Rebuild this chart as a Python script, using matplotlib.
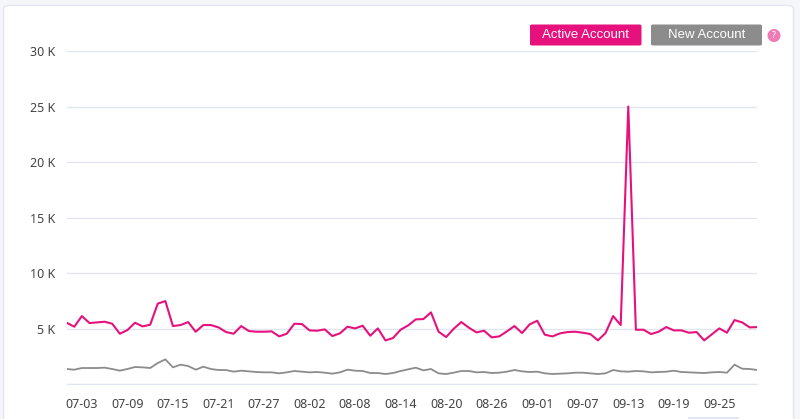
import numpy as np
import pandas as pd
import matplotlib
matplotlib.use('Agg')
import matplotlib.pyplot as plt
from matplotlib.patches import FancyBboxPatch, Ellipse, Rectangle

# daily series, 07-01 .. 09-30
start_date = '2024-07-01'
active = [5520, 5160, 6120, 5490, 5550, 5610, 5430, 4530, 4860, 5520,
          5190, 5340, 7240, 7470, 5220, 5310, 5580, 4710, 5310, 5310,
          5100, 4680, 4530, 5220, 4770, 4710, 4710, 4740, 4290, 4530,
          5430, 5400, 4830, 4800, 4920, 4320, 4560, 5160, 5010, 5250,
          4350, 5010, 3930, 4140, 4890, 5280, 5820, 5850, 6450, 4710,
          4230, 4980, 5580, 5070, 4650, 4800, 4200, 4290, 4740, 5220,
          4590, 5370, 5700, 4440, 4290, 4560, 4680, 4710, 4620, 4500,
          3930, 4590, 6120, 5310, 25000, 4890, 4890, 4500, 4710, 5130,
          4830, 4830, 4620, 4680, 3930, 4470, 5010, 4620, 5760, 5550,
          5100, 5130]
new = [1350, 1290, 1440, 1440, 1440, 1470, 1350, 1200, 1350, 1530,
       1500, 1440, 1890, 2220, 1500, 1740, 1620, 1290, 1560, 1350,
       1260, 1260, 1110, 1200, 1140, 1080, 1050, 1050, 960, 1050,
       1170, 1110, 1050, 1080, 1020, 930, 1050, 1290, 1200, 1170,
       990, 990, 900, 990, 1170, 1320, 1470, 1230, 1350, 960,
       900, 1020, 1170, 1170, 1050, 1080, 990, 1020, 1110, 1260,
       1140, 1080, 1110, 960, 900, 930, 960, 1020, 1020, 960,
       900, 960, 1260, 1140, 1110, 1170, 1140, 1050, 1080, 1110,
       1200, 1080, 1050, 1020, 990, 1050, 1080, 1020, 1740, 1380,
       1350, 1260]
y_ticks = [0, 5000, 10000, 15000, 20000, 25000, 30000]
y_labels = ['', '5 K', '10 K', '15 K', '20 K', '25 K', '30 K']
legend_labels = ['Active Account', 'New Account']

PINK = '#e6117d'
GRAY = '#8c8c8c'
W, H = 800, 419

plt.rcParams['font.family'] = ['Noto Sans', 'DejaVu Sans']

def fx(px):
    return px / W

def fy(py):
    return 1 - py / H

fig = plt.figure(figsize=(W / 100, H / 100), dpi=100, facecolor='#f5f6fa')

# white card behind everything
card = FancyBboxPatch((fx(3.5), fy(440)), fx(790), (440 - 5.5) / H,
                      boxstyle='round,pad=0,rounding_size=0.008',
                      transform=fig.transFigure, facecolor='white',
                      edgecolor='#e4e5ee', lw=1.0, zorder=-5)
fig.patches.append(card)

dates = pd.date_range(start_date, periods=len(active), freq='D')

ax = fig.add_axes([fx(66.7), fy(384), fx(757.3 - 66.7), (384 - 51) / H])
ax.set_zorder(2)
ax.set_facecolor('none')
ax.plot(dates, new, color=GRAY, lw=1.3, zorder=3)
ax.plot(dates, active, color=PINK, lw=1.5, zorder=4)

ax.set_xlim(dates[0], dates[-1])
ax.set_ylim(0, 30000)
ax.set_yticks(y_ticks)
ax.set_yticklabels(y_labels)
xt = dates[2::6]
ax.set_xticks(xt)
ax.set_xticklabels([d.strftime('%m-%d') for d in xt])
ax.grid(axis='y', color='#e0e6f1', lw=1.0, zorder=0)
ax.tick_params(length=0, labelsize=9, colors='#444444')
ax.tick_params(axis='y', pad=8)
ax.tick_params(axis='x', pad=10)
for s in ['top', 'right', 'left']:
    ax.spines[s].set_visible(False)
ax.spines['bottom'].set_color('#e0e6f1')

# legend buttons
for (x0, x1), label, col in zip([(530, 641.5), (651, 762)], legend_labels,
                                [PINK, GRAY]):
    box = FancyBboxPatch((fx(x0), fy(45.5)), fx(x1 - x0), 21 / H,
                         boxstyle='round,pad=0,rounding_size=0.003',
                         transform=fig.transFigure, facecolor=col,
                         edgecolor='none', zorder=3)
    fig.patches.append(box)
    fig.text(fx((x0 + x1) / 2), fy(35), label, color='white', fontsize=9.5,
             family=['Liberation Sans', 'DejaVu Sans'],
             ha='center', va='center', zorder=4)

fig.patches.append(Ellipse((fx(774), fy(35.5)), 13 / W, 13 / H,
                           transform=fig.transFigure, facecolor='#f07ab6',
                           edgecolor='none', zorder=3))
fig.text(fx(774), fy(35.5), '?', color='white', fontsize=6.5,
         fontweight='bold', ha='center', va='center', zorder=4)

# small scrollbar hint bottom-right
fig.patches.append(Rectangle((fx(688), 0), fx(51), 2.5 / H,
                             transform=fig.transFigure, facecolor='#dde6f5',
                             edgecolor='none', zorder=3))

fig.savefig('out.png', dpi=100, facecolor=fig.get_facecolor())
